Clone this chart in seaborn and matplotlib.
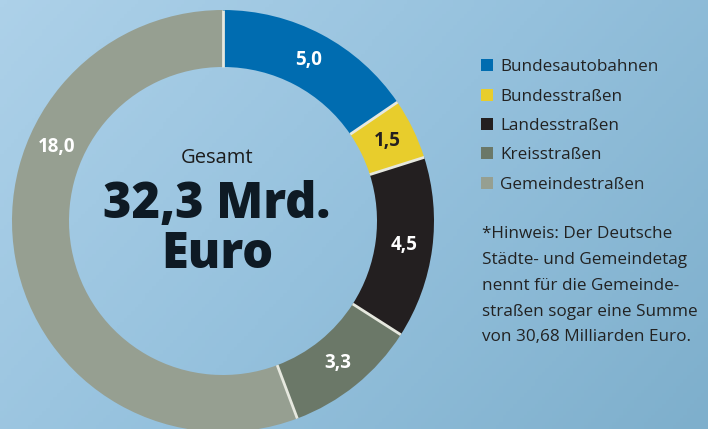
import numpy as np
import matplotlib.pyplot as plt
import seaborn as sns
from matplotlib.colors import LinearSegmentedColormap

# road network replacement values (Mrd. Euro)
categories = ["Bundesautobahnen", "Bundesstraßen", "Landesstraßen", "Kreisstraßen", "Gemeindestraßen"]
values = [5.0, 1.5, 4.5, 3.3, 18.0]
value_labels = ["5,0", "1,5", "4,5", "3,3", "18,0"]
colors = ["#006cb0", "#e8cd2c", "#231f20", "#6b7868", "#969f91"]
label_colors = ["white", "#231f20", "white", "white", "white"]

total_text = "32,3 Mrd.\nEuro"
note = ("*Hinweis: Der Deutsche\nStädte- und Gemeindetag\nnennt für die Gemeinde-\n"
        "straßen sogar eine Summe\nvon 30,68 Milliarden Euro.")

sns.set_theme(style="white")
plt.rcParams['font.family'] = ['Open Sans', 'DejaVu Sans']

W, H = 708, 429
fig = plt.figure(figsize=(W / 100, H / 100), dpi=100)
ax = fig.add_axes([0, 0, 1, 1])

# background gradient, light top-left to darker bottom-right
bg = LinearSegmentedColormap.from_list("bg", ["#add1e9", "#95c1dd", "#7eafcc"])
gx, gy = np.meshgrid(np.linspace(0, 1, 200), np.linspace(0, 1, 120))
ax.imshow(0.65 * gx + 0.35 * gy, cmap=bg, extent=(0, W, 0, H), origin='upper',
          zorder=0, aspect='auto')

cx, cy, R, ring = 223, H - 221, 211, 57
wedges, _ = ax.pie(values, colors=colors, startangle=90, counterclock=False,
                   center=(cx, cy), radius=R,
                   wedgeprops=dict(width=ring, linewidth=0))
for w in wedges:
    w.set_zorder(2)

# separators and value labels
cum = np.concatenate([[0], np.cumsum(values)])
angles = 90 - cum / cum[-1] * 360
for a in angles[:-1]:
    t = np.deg2rad(a)
    ax.plot([cx + (R - ring) * np.cos(t), cx + R * np.cos(t)],
            [cy + (R - ring) * np.sin(t), cy + R * np.sin(t)],
            color="#e6e8df", lw=2, zorder=3, solid_capstyle='butt')

mid_r = R - ring / 2
for i, (lab, col) in enumerate(zip(value_labels, label_colors)):
    a = (angles[i] + angles[i + 1]) / 2
    if i == len(values) - 1:
        a = 156  # big segment label sits up on the left
    t = np.deg2rad(a)
    ax.text(cx + mid_r * np.cos(t), cy + mid_r * np.sin(t), lab, color=col,
            fontsize=13.5, fontweight='bold', ha='center', va='center', zorder=4)

ax.text(cx - 6, H - 158, "Gesamt", fontsize=14.5, color="#1c1c1c", ha='center', va='center')
ax.text(cx - 6, H - 230, total_text, fontsize=35, fontweight='heavy', color="#0e1a24",
        ha='center', va='center', linespacing=1.0)

ax.legend(wedges, categories, loc='upper left', bbox_to_anchor=(466 / W, 1 - 44 / H),
          frameon=False, fontsize=12.3, handlelength=0.7, handleheight=0.7,
          handletextpad=0.4, labelspacing=0.78, labelcolor="#222222")

ax.text(482, H - 226, note, fontsize=12.3, color="#222222", ha='left', va='top',
        linespacing=1.82)

ax.set_xlim(0, W)
ax.set_ylim(0, H)
ax.set_aspect('auto')
ax.axis('off')

fig.savefig("out.png", dpi=100)
